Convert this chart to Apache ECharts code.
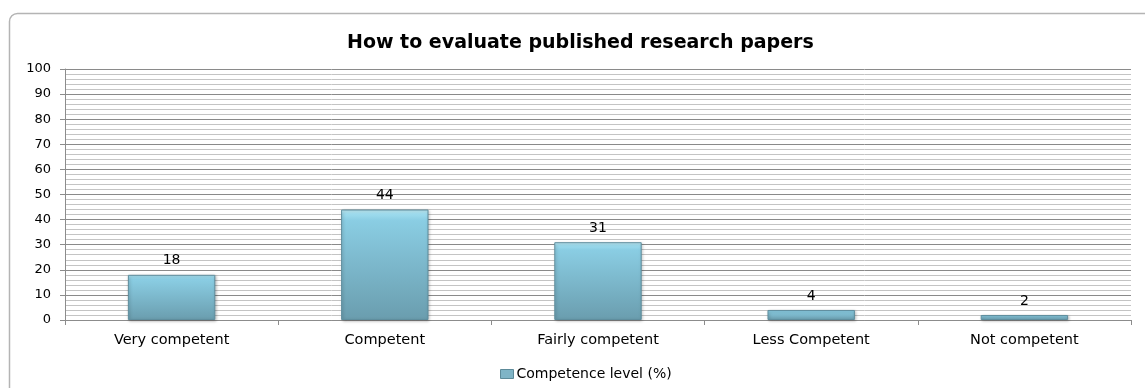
<!DOCTYPE html>
<html>
<head>
<meta charset="utf-8">
<script src="https://cdn.jsdelivr.net/npm/echarts@6/dist/echarts.min.js"></script>
<style>
  html, body { margin: 0; padding: 0; background: #fff; }
  #chart { width: 1145px; height: 388px; }
</style>
</head>
<body>
<div id="chart"></div>
<script>
// Survey results: self-rated competence in evaluating published research papers
const categories = ['Very competent', 'Competent', 'Fairly competent', 'Less Competent', 'Not competent'];
const competence = [18, 44, 31, 4, 2];
const seriesName = 'Competence level (%)';
const chartTitle = 'How to evaluate published research papers';

const chart = echarts.init(document.getElementById('chart'), null, { renderer: 'canvas' });

const barFill = new echarts.graphic.LinearGradient(0, 0, 0, 1, [
  { offset: 0, color: '#c6f1fb' },
  { offset: 0.04, color: '#9edcee' },
  { offset: 0.1, color: '#8acde3' },
  { offset: 1, color: '#6a9dae' }
]);

chart.setOption({
  animation: false,
  textStyle: { fontFamily: 'DejaVu Sans' },
  graphic: [{
    type: 'rect',
    shape: { x: 9.5, y: 13.5, width: 1160, height: 400, r: 8 },
    style: { fill: 'none', stroke: '#b4b4b4', lineWidth: 1.5 },
    z: -1
  }],
  title: {
    text: chartTitle,
    left: 342,
    top: 29,
    textStyle: { fontFamily: 'DejaVu Sans', fontWeight: 'bold', fontSize: 19, color: '#000' }
  },
  legend: {
    top: 362,
    left: 495,
    itemWidth: 13,
    itemHeight: 9,
    itemGap: 4,
    icon: 'rect',
    textStyle: { fontFamily: 'DejaVu Sans', fontSize: 14, color: '#000', padding: [0, 0, 0, -2] },
    data: [{ name: seriesName, itemStyle: { color: '#7fb4c6', borderColor: '#5d8a99', borderWidth: 1 } }]
  },
  grid: { left: 65, right: 14, top: 69, bottom: 68, containLabel: false },
  xAxis: {
    type: 'category',
    data: categories,
    axisLine: { lineStyle: { color: '#8c8c8c', width: 1 } },
    axisTick: { show: true, length: 5, lineStyle: { color: '#8c8c8c' } },
    axisLabel: { fontFamily: 'DejaVu Sans', fontSize: 14.5, color: '#000', margin: 13 },
    splitLine: { show: false }
  },
  yAxis: {
    type: 'value',
    min: 0,
    max: 100,
    interval: 10,
    axisLine: { show: true, lineStyle: { color: '#8c8c8c' } },
    axisTick: { show: true, length: 5, lineStyle: { color: '#8c8c8c' } },
    axisLabel: { fontFamily: 'DejaVu Sans', fontSize: 13, color: '#000', margin: 14 },
    splitLine: { show: true, lineStyle: { color: '#8a8a8a', width: 1 } },
    minorTick: { show: false, splitNumber: 5 },
    minorSplitLine: { show: true, lineStyle: { color: '#c4c4c4', width: 1 } }
  },
  series: [{
    name: seriesName,
    type: 'bar',
    data: competence,
    barWidth: '41%',
    itemStyle: {
      color: barFill,
      borderColor: '#5f8e9e',
      borderWidth: 1,
      shadowColor: 'rgba(0,0,0,0.25)',
      shadowBlur: 3,
      shadowOffsetX: 1,
      shadowOffsetY: 1
    },
    label: {
      show: true,
      position: 'top',
      distance: 7,
      fontFamily: 'DejaVu Sans',
      fontSize: 14,
      color: '#000'
    }
  }]
});
</script>
</body>
</html>
